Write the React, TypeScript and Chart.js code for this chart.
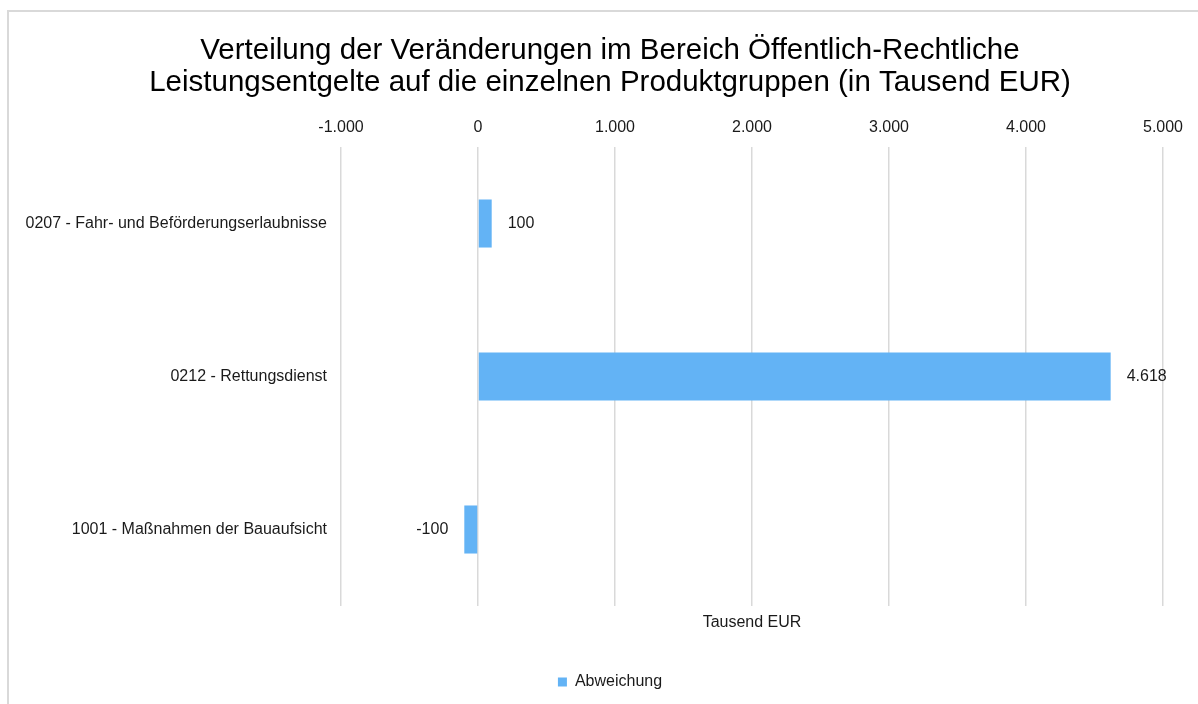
import React, { useEffect, useRef } from "react";
import { Chart, registerables } from "chart.js";

Chart.register(...registerables);

const TITLE_LINES = [
  "Verteilung der Veränderungen im Bereich Öffentlich-Rechtliche",
  "Leistungsentgelte auf die einzelnen Produktgruppen (in Tausend EUR)",
];
const CATEGORIES = [
  "0207 - Fahr- und Beförderungserlaubnisse",
  "0212 - Rettungsdienst",
  "1001 - Maßnahmen der Bauaufsicht",
];
const SERIES_NAME = "Abweichung";
const VALUES = [100, 4618, -100];
const X_MIN = -1000;
const X_MAX = 5000;
const X_STEP = 1000;
const AXIS_TITLE = "Tausend EUR";

const FONT = "'Liberation Sans', Arial, Helvetica, sans-serif";
const TEXT = "#1a1a1a";
const BAR = "#63b3f5";
const GRID = "#d9d9d9";

function fmt(v: number): string {
  const s = Math.abs(Math.round(v))
    .toString()
    .replace(/\B(?=(\d{3})+(?!\d))/g, ".");
  return (v < 0 ? "-" : "") + s;
}

const dataLabels = {
  id: "dataLabels",
  afterDatasetsDraw(chart: any) {
    const ctx = chart.ctx;
    const meta = chart.getDatasetMeta(0);
    const vals = chart.data.datasets[0].data as number[];
    ctx.save();
    ctx.font = `16px ${FONT}`;
    ctx.fillStyle = TEXT;
    ctx.textBaseline = "middle";
    meta.data.forEach((bar: any, i: number) => {
      const v = vals[i];
      if (v >= 0) {
        ctx.textAlign = "left";
        ctx.fillText(fmt(v), bar.x + 16, bar.y);
      } else {
        ctx.textAlign = "right";
        ctx.fillText(fmt(v), bar.x - 16, bar.y);
      }
    });
    ctx.restore();
  },
};

export default function App() {
  const ref = useRef<HTMLCanvasElement | null>(null);

  useEffect(() => {
    if (!ref.current) return;
    document.body.style.background = "#ffffff";
    const chart = new Chart(ref.current, {
      type: "bar",
      data: {
        labels: CATEGORIES,
        datasets: [
          {
            label: SERIES_NAME,
            data: VALUES,
            backgroundColor: BAR,
            borderWidth: 0,
            categoryPercentage: 1,
            barPercentage: 0.314,
            xAxisID: "x",
            yAxisID: "y",
          },
        ],
      },
      options: {
        indexAxis: "y",
        animation: false,
        responsive: false,
        layout: { padding: { top: 25, left: 22, right: 0, bottom: 4 } },
        plugins: {
          title: {
            display: true,
            text: TITLE_LINES,
            color: "#000",
            font: { family: FONT, size: 29.5, weight: "normal", lineHeight: 1.085 },
            padding: { top: 10, bottom: 8.8 },
          },
          legend: {
            display: true,
            position: "bottom",
            labels: {
              boxWidth: 9,
              boxHeight: 9,
              color: TEXT,
              font: { family: FONT, size: 16 },
              padding: 10,
            },
          },
          tooltip: { enabled: false },
        },
        scales: {
          x: {
            type: "linear",
            position: "top",
            min: X_MIN,
            max: X_MAX,
            border: { display: false },
            grid: { color: GRID, lineWidth: 1.5, drawTicks: false },
            ticks: {
              stepSize: X_STEP,
              padding: 10,
              color: TEXT,
              font: { family: FONT, size: 16 },
              callback: (v: any) => fmt(Number(v)),
            },
          },
          x2: {
            type: "linear",
            position: "bottom",
            min: X_MIN,
            max: X_MAX,
            border: { display: false },
            grid: { display: false, drawTicks: false },
            ticks: { display: false },
            title: {
              display: true,
              text: AXIS_TITLE,
              color: TEXT,
              font: { family: FONT, size: 16 },
              padding: { top: 7, bottom: 31.8 },
            },
          },
          y: {
            type: "category",
            position: "left",
            border: { display: false },
            grid: { display: false, drawTicks: false },
            ticks: {
              padding: 14,
              color: TEXT,
              font: { family: FONT, size: 16 },
            },
            afterFit: (axis: any) => {
              axis.width = 319;
            },
          },
          y2: {
            type: "category",
            position: "right",
            border: { display: false },
            grid: { display: false, drawTicks: false },
            ticks: { display: false },
            afterFit: (axis: any) => {
              axis.width = 35;
            },
          },
        },
      },
      plugins: [dataLabels],
    } as any);
    return () => chart.destroy();
  }, []);

  return (
    <>
      <div
        style={{
          position: "fixed",
          left: 7,
          top: 10,
          width: 1400,
          height: 900,
          borderLeft: "2px solid #d9d9d9",
          borderTop: "2px solid #d9d9d9",
        }}
      />
      <div style={{ position: "fixed", left: 0, top: 0, width: 1198, height: 704 }}>
        <canvas ref={ref} width={1198} height={704} style={{ width: 1198, height: 704, display: "block" }} />
      </div>
    </>
  );
}
